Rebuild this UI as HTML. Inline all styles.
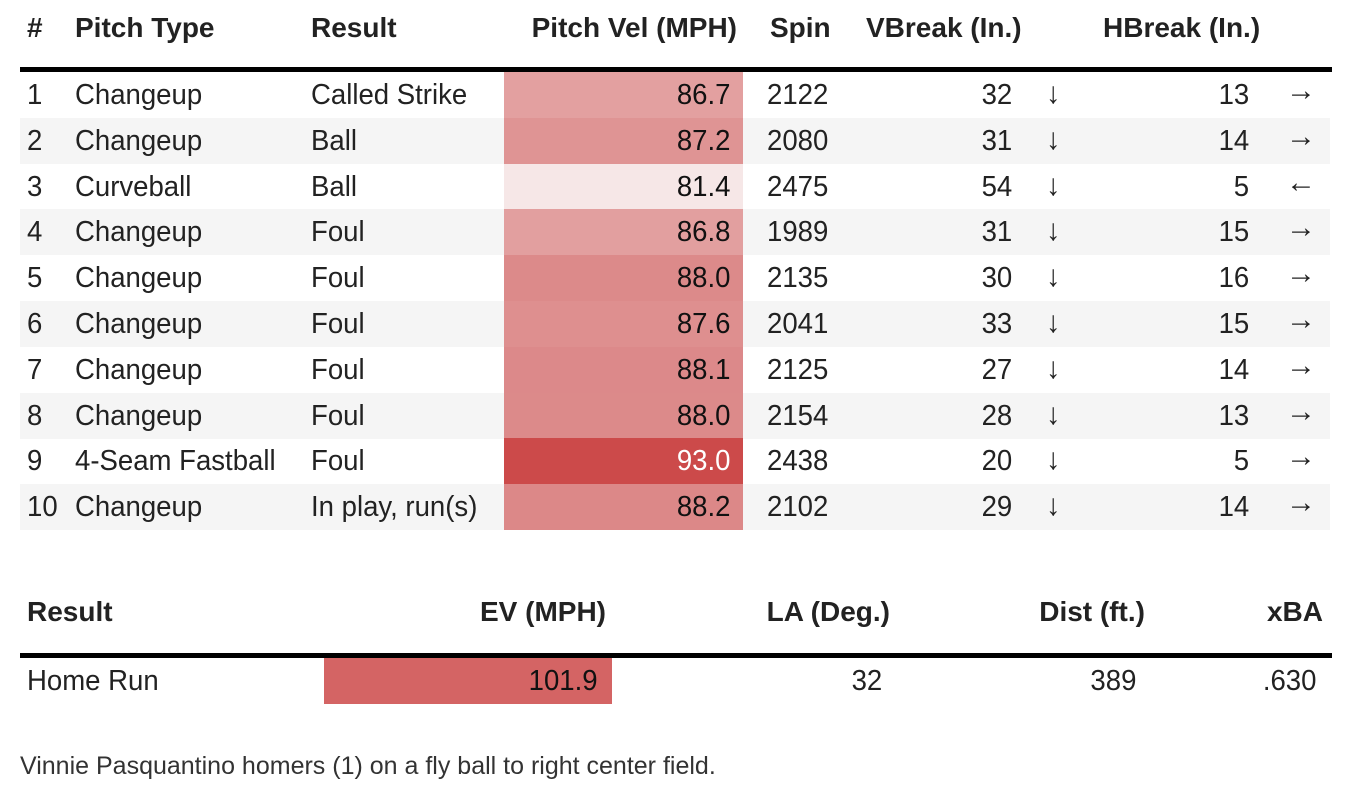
<!DOCTYPE html>
<html><head><meta charset="utf-8"><style>
body{margin:0;width:1350px;height:802px;background:#fff;font-family:"Liberation Sans",sans-serif;color:#222;position:relative;overflow:hidden}
div{position:absolute;white-space:nowrap}
.h{font-weight:bold;font-size:28px;color:#222;transform-origin:left}
.t{font-size:29px;line-height:46px;transform:scaleX(.95);transform-origin:left}
.r{text-align:right;transform-origin:right}
.a{font-size:30px;line-height:44px}
</style></head><body>
<div class="h" style="left:27px;top:12px">#</div>
<div class="h" style="left:75px;top:12px">Pitch Type</div>
<div class="h" style="left:311px;top:12px">Result</div>
<div class="h r" style="right:613px;top:12px">Pitch Vel (MPH)</div>
<div class="h" style="left:770px;top:12px">Spin</div>
<div class="h" style="left:866px;top:12px">VBreak (In.)</div>
<div class="h" style="left:1103px;top:12px">HBreak (In.)</div>
<div style="left:20px;top:67px;width:1312px;height:5px;background:#000"></div>
<div id="rows"></div>
<script>
const d=[["1","Changeup","Called Strike","86.7","#e3a0a0","2122","32","↓","13","→"],
["2","Changeup","Ball","87.2","#df9494","2080","31","↓","14","→"],
["3","Curveball","Ball","81.4","#f6e7e7","2475","54","↓","5","←"],
["4","Changeup","Foul","86.8","#e29f9f","1989","31","↓","15","→"],
["5","Changeup","Foul","88.0","#dc8a8a","2135","30","↓","16","→"],
["6","Changeup","Foul","87.6","#de8f8f","2041","33","↓","15","→"],
["7","Changeup","Foul","88.1","#dc898a","2125","27","↓","14","→"],
["8","Changeup","Foul","88.0","#dc8a8a","2154","28","↓","13","→"],
["9","4-Seam Fastball","Foul","93.0","#cc4a4a","2438","20","↓","5","→"],
["10","Changeup","In play, run(s)","88.2","#dc8888","2102","29","↓","14","→"]];
let h="";
d.forEach((r,i)=>{const y=72+i*45.8;
if(i%2==1)h+=`<div style="left:20px;top:${y}px;width:1310px;height:46px;background:#f5f5f5"></div>`;
h+=`<div style="left:504px;top:${y}px;width:239px;height:46px;background:${r[4]}"></div>`;
const c=i==8?"#fff":"#111";
h+=`<div class="t" style="left:27px;top:${y}px">${r[0]}</div>
<div class="t" style="left:75px;top:${y}px">${r[1]}</div>
<div class="t" style="left:311px;top:${y}px">${r[2]}</div>
<div class="t r" style="right:620px;top:${y}px;color:${c}">${r[3]}</div>
<div class="t" style="left:767px;top:${y}px">${r[5]}</div>
<div class="t r" style="right:338px;top:${y}px">${r[6]}</div>
<div class="t a" style="left:1046px;top:${y}px">${r[7]}</div>
<div class="t r" style="right:101px;top:${y}px">${r[8]}</div>
<div class="a" style="left:1286px;top:${y-3}px">${r[9]}</div>`;});
document.getElementById("rows").outerHTML=h;
</script>
<div class="h" style="left:27px;top:596px">Result</div>
<div class="h r" style="right:744px;top:596px">EV (MPH)</div>
<div class="h r" style="right:460px;top:596px">LA (Deg.)</div>
<div class="h r" style="right:205px;top:596px">Dist (ft.)</div>
<div class="h r" style="right:27px;top:596px">xBA</div>
<div style="left:20px;top:653px;width:1312px;height:5px;background:#000"></div>
<div style="left:324px;top:658px;width:288px;height:46px;background:#d46464"></div>
<div class="t" style="left:27px;top:658px">Home Run</div>
<div class="t r" style="right:752px;top:658px;color:#111">101.9</div>
<div class="t r" style="right:468px;top:658px">32</div>
<div class="t r" style="right:214px;top:658px">389</div>
<div class="t r" style="right:34px;top:658px">.630</div>
<div style="left:20px;top:752px;font-size:25px;color:#333">Vinnie Pasquantino homers (1) on a fly ball to right center field.</div>
</body></html>
